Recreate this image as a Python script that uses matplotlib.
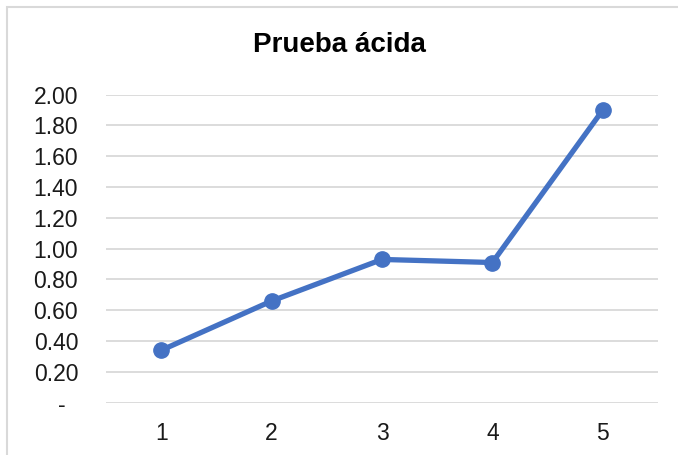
import matplotlib
matplotlib.use("Agg")
import matplotlib.pyplot as plt
from matplotlib.ticker import FuncFormatter
from matplotlib.patches import Rectangle

plt.rcParams['font.family'] = ['Liberation Sans', 'DejaVu Sans']

periods = [1, 2, 3, 4, 5]
acid_test = [0.34, 0.66, 0.93, 0.91, 1.90]
y_ticks = [0.0, 0.2, 0.4, 0.6, 0.8, 1.0, 1.2, 1.4, 1.6, 1.8, 2.0]

fig = plt.figure(figsize=(6.78, 4.55), dpi=100)
ax = fig.add_axes([0.1563, 0.115, 0.8142, 0.677])

# chart frame, partly off the image like the screenshot
fig.patches.append(Rectangle((7 / 678, -0.1), 1.2, 1.1 - 7 / 455,
                             transform=fig.transFigure, fill=False,
                             edgecolor='#d9d9d9', linewidth=1.5))

ax.plot(periods, acid_test, color='#4472c4', linewidth=3.8,
        marker='o', markersize=11, solid_capstyle='round', zorder=3)

ax.set_xlim(0.5, 5.5)
ax.set_ylim(0, 2.0)
ax.set_xticks(periods)
ax.set_yticks(y_ticks)
ax.yaxis.set_major_formatter(FuncFormatter(lambda v, p: '-  ' if abs(v) < 1e-9 else f'{v:.2f}'))
ax.grid(axis='y', color='#d9d9d9', linewidth=1.3)
ax.set_axisbelow(True)
for s in ax.spines.values():
    s.set_visible(False)
ax.tick_params(axis='both', length=0, labelsize=16.5, colors='#1a1a1a')
ax.tick_params(axis='y', pad=20)
ax.tick_params(axis='x', pad=14)

fig.text(0.5, 1 - 45 / 455, 'Prueba ácida', ha='center', va='center',
         fontsize=20, fontweight='bold', color='#000000')

fig.savefig('out.png', dpi=100)
